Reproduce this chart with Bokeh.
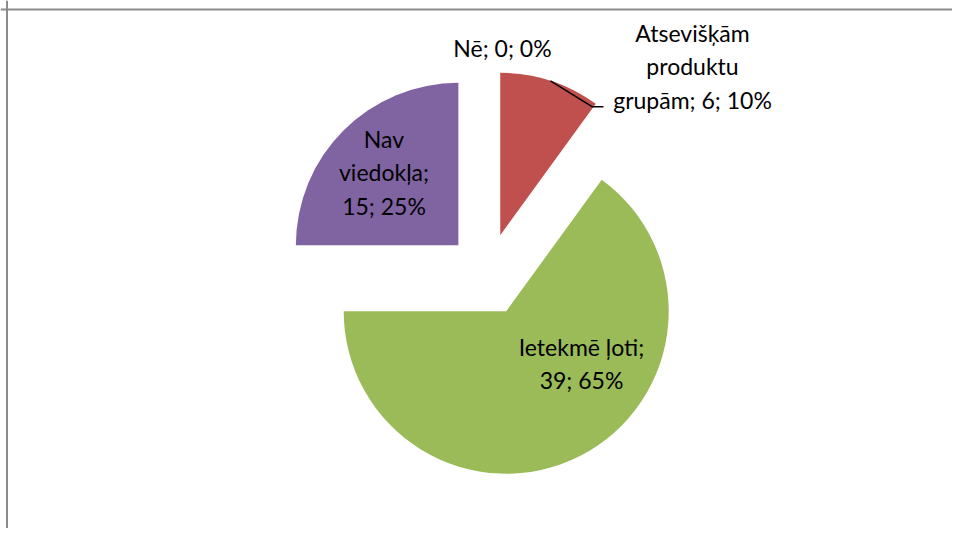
import numpy as np
from bokeh.plotting import figure
from bokeh.models import ColumnDataSource, Span
from bokeh.core.properties import value
from bokeh.embed import file_html
from bokeh.resources import INLINE

# ---- data ----
categories = ["Nē", "Atsevišķām produktu grupām", "Ietekmē ļoti", "Nav viedokļa"]
label_texts = ["Nē; 0; 0%", "Atsevišķām\nproduktu\ngrupām; 6; 10%",
               "Ietekmē ļoti;\n39; 65%", "Nav\nviedokļa;\n15; 25%"]
counts = [0, 6, 39, 15]
colors = ["#4F81BD", "#C0504D", "#9BBB59", "#8064A2"]

# ---- layout (pixels == data units) ----
W, H = 952, 528
cx, cy = 487.0, 254.0
R = 162.5
EXPLODE = 41.2
FONT = "Lato"
FS = "23px"

vals = np.array(counts, dtype=float)
frac = vals / vals.sum()
cum = np.concatenate([[0], np.cumsum(frac)])
# clockwise from 12 o'clock
start_deg = 90 - 360 * cum[1:]
end_deg = 90 - 360 * cum[:-1]
mid = np.deg2rad((start_deg + end_deg) / 2)
xs = cx + EXPLODE * np.cos(mid)
ys = cy + EXPLODE * np.sin(mid)

keep = vals > 0
src = ColumnDataSource(dict(x=xs[keep], y=ys[keep],
                            start=np.deg2rad(start_deg)[keep],
                            end=np.deg2rad(end_deg)[keep],
                            color=[c for c, k in zip(colors, keep) if k],
                            cat=[c for c, k in zip(categories, keep) if k]))

p = figure(width=W, height=H, x_range=(0, W), y_range=(0, H),
           output_backend="svg", toolbar_location=None, min_border=0)
p.axis.visible = False
p.grid.visible = False
p.outline_line_color = None
p.background_fill_color = "white"
p.border_fill_color = "white"

p.wedge(x="x", y="y", radius=R, start_angle="start", end_angle="end",
        fill_color="color", line_color=None, source=src)

# chart border (top & left visible in the reference)
p.add_layout(Span(location=6.5, dimension="height", line_color="#8c8c8c", line_width=2))
p.add_layout(Span(location=H - 9, dimension="width", line_color="#8c8c8c", line_width=2))

# leader line for the small red slice
i = 1
ax = xs[i] + R * np.cos(mid[i])
ay = ys[i] + R * np.sin(mid[i])
p.line(x=[ax, ax + 42, ax + 53], y=[ay, ay - 26, ay - 26], line_color="black", line_width=1.5)

# data labels
lab_x = [502, 692, 581, 383.5]
lab_y = [481, 462, 165, 356]
p.text(x=lab_x, y=lab_y, text=label_texts, text_align="center",
       text_baseline="middle", text_font=value(FONT), text_font_size=FS,
       text_color="black", text_line_height=1.2)

open("out.html", "w").write(file_html(p, INLINE))
